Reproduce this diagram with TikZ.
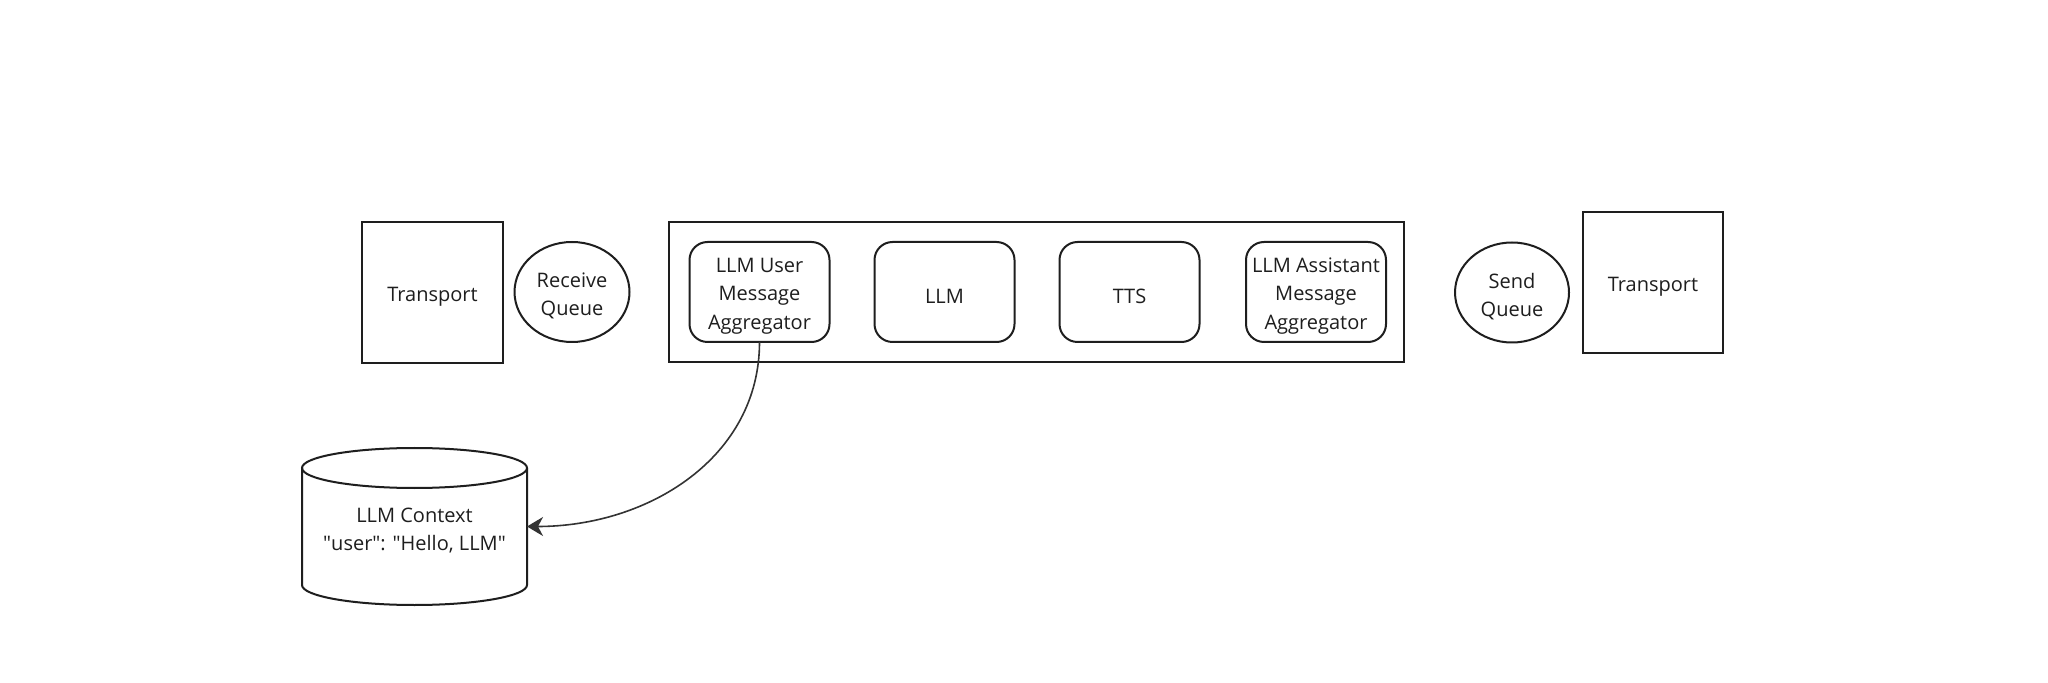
\documentclass[tikz,border=0pt]{standalone}
\usepackage{fontspec}
\setmainfont{Open Sans}
\usetikzlibrary{shapes.geometric,arrows.meta}
\definecolor{ink}{HTML}{1E1E1E}
\definecolor{arr}{HTML}{333333}
\tikzset{
  lbl/.style={text=ink, font=\fontsize{10}{14.25}\selectfont, align=center, inner sep=0pt, yshift=-2pt},
  base/.style={draw=ink, inner sep=0pt, outer sep=0pt},
  txt/.style={label={[lbl]center:{#1}}},
  transport/.style={base, rectangle, line width=1.3pt, minimum width=70.5pt, minimum height=70.5pt},
  queue/.style={base, ellipse, line width=1pt, minimum width=57.5pt, minimum height=50pt},
  pipeline/.style={base, rectangle, line width=1.2pt, minimum width=367.5pt, minimum height=70pt},
  proc/.style={base, rectangle, rounded corners=9pt, line width=1pt, minimum width=70pt, minimum height=50pt},
  cyl/.style={draw=ink, line width=1pt},
  link/.style={draw=arr, line width=0.8pt, -{Stealth[length=8pt,width=9.5pt,inset=2.5pt]}}
}
\begin{document}
\begin{tikzpicture}[x=0.5pt,y=-0.5pt]
\fill[white] (0,0) rectangle (2048,683);
\useasboundingbox (0,0) rectangle (2048,683);
\node[transport, txt={Transport}] (tr1) at (432.5,292.5) {};
\node[queue, txt={Receive\\Queue}] (rq) at (572,292) {};
\node[pipeline] (pipe) at (1036.5,292) {};
\node[proc, txt={LLM User\\Message\\Aggregator}] (u1) at (759.5,292) {};
\node[proc, txt={LLM}] (llm) at (944.5,292) {};
\node[proc, txt={TTS}] (tts) at (1129.5,292) {};
\node[proc, txt={LLM Assistant\\Message\\Aggregator}] (a1) at (1316,292) {};
\node[queue, minimum width=57pt, txt={Send\\Queue}] (sq) at (1512,292.5) {};
\node[transport, minimum width=70pt, txt={Transport}] (tr2) at (1653,282.5) {};
\node[base, draw=none, rectangle, minimum width=112.5pt, minimum height=78.5pt,
  txt={LLM Context\\\textquotedbl user\textquotedbl: \textquotedbl Hello, LLM\textquotedbl}] (ctx) at (414.5,526.5) {};
\draw[cyl] ([yshift=-10pt]ctx.north west) -- ([yshift=10pt]ctx.south west)
  arc[start angle=180,end angle=360,x radius=56.25pt,y radius=10pt]
  -- ([yshift=-10pt]ctx.north east);
\draw[cyl] ([yshift=-10pt]ctx.north) ellipse [x radius=56.25pt,y radius=10pt];
\draw[link] (u1.south) .. controls +(0,115) and +(122,0) .. (ctx.east);
\end{tikzpicture}
\end{document}
